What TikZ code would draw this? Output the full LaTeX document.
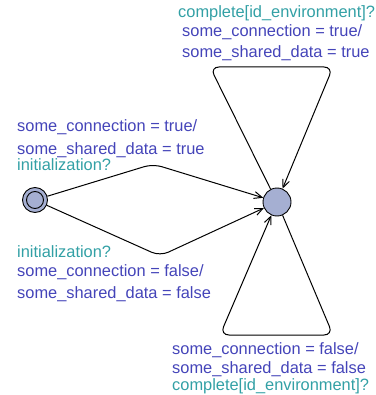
\documentclass[tikz,border=0pt]{standalone}
\usepackage{fontspec}
\setmainfont{Liberation Sans}
\usetikzlibrary{arrows.meta}
\definecolor{upd}{RGB}{68,68,185}
\definecolor{syn}{RGB}{50,160,165}
\definecolor{locfill}{RGB}{165,175,210}
\begin{document}
\begin{tikzpicture}[x=1pt,y=-1pt,
  loc/.style={circle,draw=black,fill=locfill,line width=0.9pt,inner sep=0pt},
  edge/.style={draw=black,line width=1pt,rounded corners=9pt},
  arr/.style={-{Straight Barb[length=8pt,width=7pt]}},
  lbl/.style={anchor=west,inner sep=0pt,font=\fontsize{16.4}{19}\selectfont},
  updl/.style={lbl,text=upd},
  synl/.style={lbl,text=syn}]
\useasboundingbox (0,0) rectangle (375,395);
% locations
\node[loc,minimum size=25pt] (init) at (35,200) {};
\node[circle,draw=black,line width=0.9pt,inner sep=0pt,minimum size=17pt] (initin) at (35,200) {};
\node[loc,minimum size=28pt] (hub) at (277,202) {};
% corner points
\coordinate (ua) at (153,164);
\coordinate (la) at (160,256);
\coordinate (tl) at (210,67);
\coordinate (tr) at (333,67);
\coordinate (bl) at (220,335);
\coordinate (br) at (333,335);
% edges
\draw[edge,arr] (init) -- (ua) -- (hub);
\draw[edge,arr] (init) -- (la) -- (hub);
\draw[edge,arr] (hub) -- (tl) -- (tr) -- (hub);
\draw[edge,arr] (hub) -- (br) -- (bl) -- (hub);
% labels top
\node[synl] (t1) at (178,13) {complete[id\_environment]?};
\node[updl] (t2) at (182,32) {some\_connection = true/};
\node[updl] (t3) at (182,53) {some\_shared\_data = true};
% labels left upper
\node[updl] (u1) at (17,127) {some\_connection = true/};
\node[updl] (u2) at (17,150) {some\_shared\_data = true};
\node[synl] (u3) at (17,165) {initialization?};
% labels left lower
\node[synl] (l1) at (17,252) {initialization?};
\node[updl] (l2) at (17,272) {some\_connection = false/};
\node[updl] (l3) at (17,294) {some\_shared\_data = false};
% labels bottom
\node[updl] (b1) at (172,350) {some\_connection = false/};
\node[updl] (b2) at (172,369) {some\_shared\_data = false};
\node[synl] (b3) at (172,386) {complete[id\_environment]?};
\end{tikzpicture}
\end{document}
